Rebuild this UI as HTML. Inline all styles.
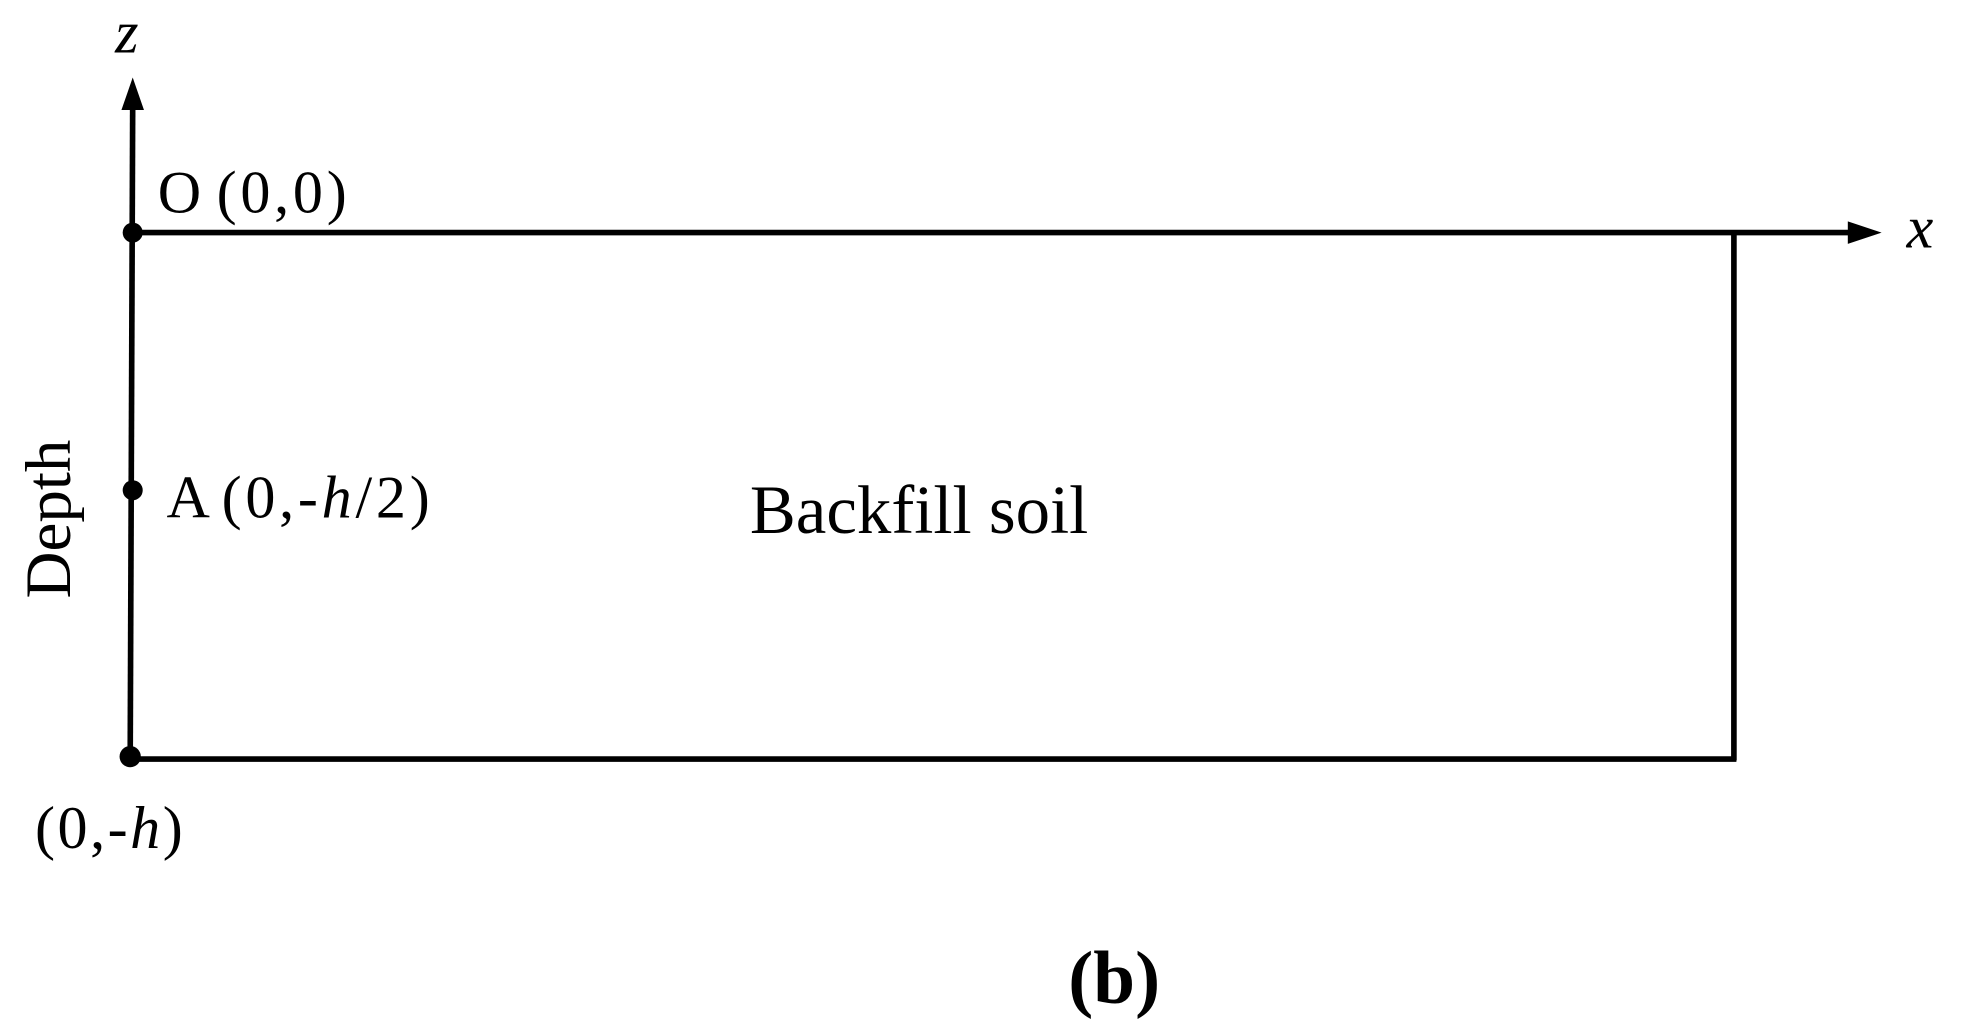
<!DOCTYPE html>
<html><head><style>html,body{margin:0;padding:0;background:#fff;width:1963px;height:1033px;overflow:hidden}</style></head>
<body>
<svg width="1963" height="1033" viewBox="0 0 1568 826" preserveAspectRatio="none" xmlns="http://www.w3.org/2000/svg" font-family="'Liberation Serif', serif" fill="#000">
<g stroke="#000" stroke-width="4.5" fill="none">
<line x1="106" y1="80" x2="104" y2="607"/>
<line x1="106" y1="186" x2="1480" y2="186"/>
<line x1="1385" y1="186" x2="1385" y2="608"/>
<line x1="104" y1="607" x2="1387" y2="607"/>
</g>
<polygon points="106,62 97,88 115,88"/>
<polygon points="1503,186 1476,177 1476,195"/>
<circle cx="106" cy="186" r="8"/>
<circle cx="106" cy="392" r="8"/>
<circle cx="104" cy="605" r="8.5"/>
<text x="92" y="42" font-size="48" font-style="italic">z</text>
<text x="126" y="170" font-size="48">O</text>
<text x="173" y="170" font-size="48" letter-spacing="3">(0,0)</text>
<text x="1523" y="198" font-size="48" font-style="italic">x</text>
<text x="133" y="414" font-size="48">A</text>
<text x="177" y="414" font-size="48" letter-spacing="3">(0,-<tspan font-style="italic">h</tspan>/2)</text>
<text x="599" y="426" font-size="55">Backfill soil</text>
<text transform="translate(56,415) rotate(-90)" font-size="52" text-anchor="middle">Depth</text>
<text x="28" y="678" font-size="48" letter-spacing="2">(0,-<tspan font-style="italic">h</tspan>)</text>
<text x="890" y="802" font-size="60" font-weight="bold" text-anchor="middle">(b)</text>
</svg>
</body></html>
